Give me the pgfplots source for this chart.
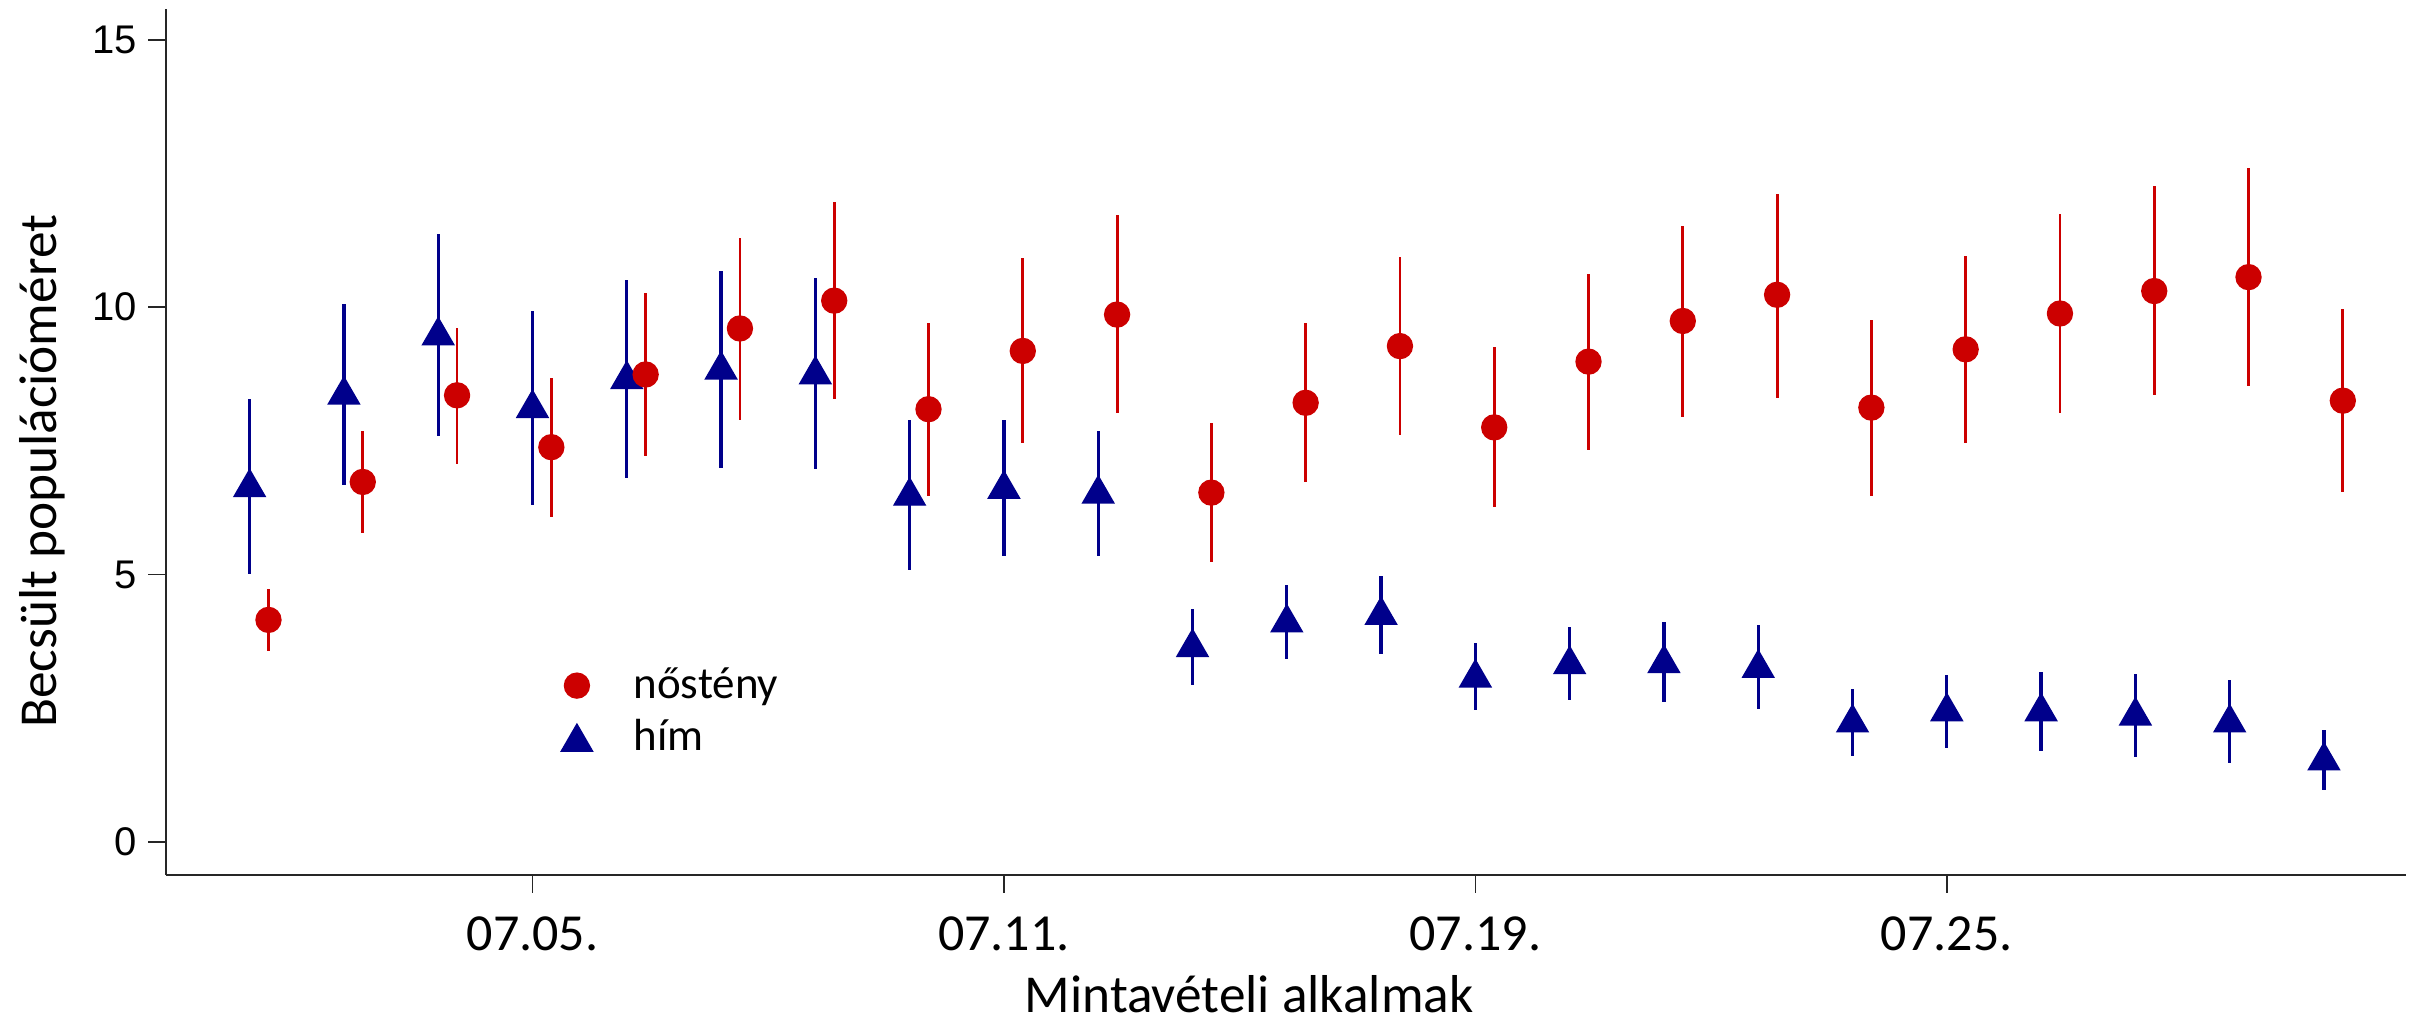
\documentclass[border=0pt]{standalone}
\usepackage{pgfplots}
\pgfplotsset{compat=1.18}
\usepackage{pgfplotstable}
\usepackage{fontspec}
\setmainfont{Carlito}
\newfontfamily\arialfont{Liberation Sans}
\definecolor{femred}{RGB}{204,0,0}
\definecolor{malenavy}{RGB}{0,0,139}

\pgfplotstableread{
x y top bot
1 6.71 8.28 5.01
2 8.44 10.06 6.68
3 9.55 11.36 7.59
4 8.19 9.92 6.29
5 8.73 10.50 6.80
6 8.91 10.68 7.00
7 8.82 10.54 6.97
8 6.55 7.89 5.09
9 6.68 7.89 5.34
10 6.59 7.69 5.35
11 3.72 4.35 2.94
12 4.18 4.80 3.42
13 4.32 4.98 3.52
14 3.15 3.71 2.46
15 3.40 4.02 2.65
16 3.42 4.11 2.61
17 3.33 4.05 2.48
18 2.31 2.86 1.61
19 2.52 3.12 1.75
20 2.52 3.18 1.70
21 2.44 3.13 1.59
22 2.31 3.03 1.47
23 1.60 2.10 0.97
}\himdata

\pgfplotstableread{
x y top bot
1.2 4.15 4.72 3.57
2.2 6.73 7.68 5.77
3.2 8.35 9.60 7.06
4.2 7.38 8.68 6.08
5.2 8.74 10.26 7.22
6.2 9.60 11.30 7.89
7.2 10.12 11.97 8.28
8.2 8.09 9.70 6.47
9.2 9.18 10.92 7.45
10.2 9.86 11.72 8.02
11.2 6.53 7.84 5.23
12.2 8.21 9.70 6.73
13.2 9.27 10.93 7.60
14.2 7.75 9.26 6.26
15.2 8.98 10.62 7.32
16.2 9.74 11.52 7.94
17.2 10.23 12.11 8.30
18.2 8.12 9.75 6.47
19.2 9.21 10.95 7.46
20.2 9.88 11.74 8.02
21.2 10.30 12.26 8.35
22.2 10.56 12.60 8.53
23.2 8.25 9.97 6.55
}\nosdata

\begin{document}
\begin{tikzpicture}
\useasboundingbox (-49.8pt,-46.2pt) rectangle (676.2pt,262.5pt);
\begin{axis}[
  at={(0pt,0pt)}, anchor=south west,
  scale only axis,
  width=672pt, height=259.9pt,
  xmin=0.113, xmax=23.87,
  ymin=-0.62, ymax=15.58,
  axis lines*=left,
  axis line style={line width=0.6pt, black!85},
  tick align=outside,
  major tick length=5.3pt,
  tick style={line width=0.5pt, black!85},
  xtick={4,9,14,19},
  xticklabels={07.05.,07.11.,07.19.,07.25.},
  xticklabel style={font=\fontsize{15.6}{18}\selectfont, yshift=-3.7pt},
  ytick={0,5,10,15},
  yticklabel style={font=\arialfont\fontsize{12}{14}\selectfont},
  /pgf/number format/assume math mode=true,
  xlabel={Mintavételi alkalmak},
  ylabel={Becsült populációméret},
  every axis x label/.style={at={(axis description cs:0.4835,0)}, anchor=base, yshift=-41.2pt, inner sep=0pt, font=\fontsize{16}{19}\selectfont},
  every axis y label/.style={at={(axis description cs:-0.0554,0.466)}, rotate=90, anchor=center, font=\fontsize{16}{19}\selectfont},
  reverse legend,
  legend image code/.code={\path (-4pt,0pt) (16.8pt,0pt); \draw[#1] plot coordinates {(0pt,0.7pt)};},
  legend style={at={(axis description cs:0.1762,0.2467)}, anchor=north west, draw=none, fill=none, inner sep=0pt, row sep=0pt,
    font=\fontsize{13.5}{15}\selectfont,
    nodes={inner xsep=0pt, inner ysep=0pt, text height=11pt, text depth=4.6pt}},
  legend cell align=left,
]
\addplot[only marks, mark=triangle*, mark size=5.4pt, color=malenavy,
  mark options={yshift=-1.35pt},
  error bars/.cd, y dir=both, y explicit, error mark=none,
  error bar style={line width=1pt, malenavy}]
  table[x=x, y=y, y error plus expr=\thisrow{top}-\thisrow{y}, y error minus expr=\thisrow{y}-\thisrow{bot}] {\himdata};
\addlegendentry{hím}
\addplot[only marks, mark=*, mark size=3.75pt, color=femred,
  error bars/.cd, y dir=both, y explicit, error mark=none,
  error bar style={line width=0.85pt, femred}]
  table[x=x, y=y, y error plus expr=\thisrow{top}-\thisrow{y}, y error minus expr=\thisrow{y}-\thisrow{bot}] {\nosdata};
\addlegendentry{nőstény}
\end{axis}
\end{tikzpicture}
\end{document}
